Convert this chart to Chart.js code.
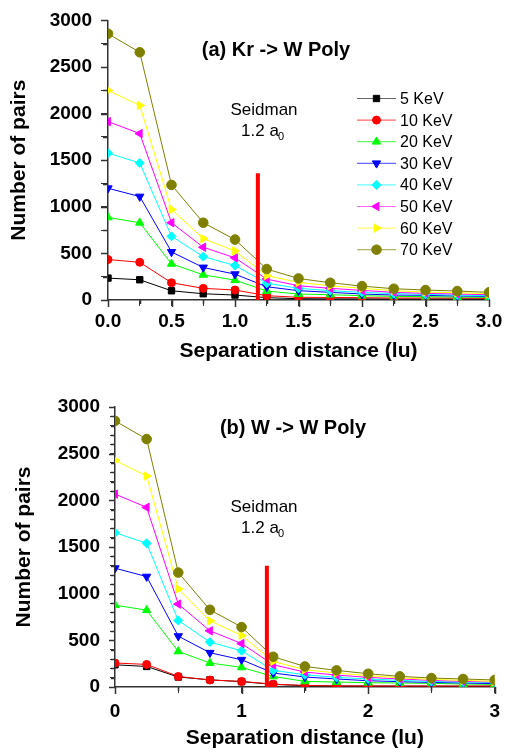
<!DOCTYPE html>
<html>
<head>
<meta charset="utf-8">
<script src="https://cdn.jsdelivr.net/npm/chart.js"></script>
<style>
  html, body { margin: 0; padding: 0; background: #fff; }
  #wrap { position: relative; width: 507px; height: 753px; }
  .box { position: absolute; left: 0; width: 507px; }
  .box canvas { position: absolute; left: 0; top: 0; }
  .box canvas.over { pointer-events: none; }
  #top { top: 0; height: 370px; }
  #bot { top: 370px; height: 383px; }
</style>
</head>
<body>
<div id="wrap">
  <div class="box" id="top">
    <canvas id="c1" width="507" height="370"></canvas>
    <canvas id="o1" class="over" width="507" height="370"></canvas>
  </div>
  <div class="box" id="bot">
    <canvas id="c2" width="507" height="383"></canvas>
    <canvas id="o2" class="over" width="507" height="383"></canvas>
  </div>
</div>
<script>
// separation distance (lu) and beam energies
const distances = [0, 0.25, 0.5, 0.75, 1.0, 1.25, 1.5, 1.75, 2.0, 2.25, 2.5, 2.75, 3.0];
const energies = ['5 KeV', '10 KeV', '20 KeV', '30 KeV', '40 KeV', '50 KeV', '60 KeV', '70 KeV'];

// (a) Kr -> W Poly, number of pairs
const kr5  = [235, 217, 99, 67, 53, 25, 14, 12, 12, 11, 11, 11, 11];
const kr10 = [434, 405, 185, 125, 107, 46, 29, 27, 25, 21, 21, 21, 18];
const kr20 = [886, 829, 388, 270, 213, 96, 64, 57, 46, 39, 36, 32, 28];
const kr30 = [1199, 1110, 516, 349, 277, 142, 100, 82, 64, 53, 50, 43, 39];
const kr40 = [1576, 1470, 683, 466, 370, 180, 125, 100, 82, 68, 60, 53, 46];
const kr50 = [1914, 1786, 829, 566, 452, 224, 153, 125, 103, 82, 71, 64, 57];
const kr60 = [2249, 2088, 971, 658, 526, 262, 189, 153, 125, 100, 85, 78, 68];
const kr70 = [2857, 2658, 1235, 829, 648, 332, 231, 185, 149, 121, 107, 96, 82];

// (b) W -> W Poly, number of pairs
const w5  = [238, 220, 107, 77, 57, 28, 14, 11, 10, 10, 9, 9, 9];
const w10 = [257, 242, 113, 75, 60, 30, 17, 11, 11, 10, 10, 10, 10];
const w20 = [877, 823, 381, 257, 210, 113, 60, 53, 46, 43, 39, 32, 28];
const w30 = [1273, 1183, 545, 367, 292, 150, 107, 86, 67, 57, 49, 43, 36];
const w40 = [1653, 1540, 712, 481, 388, 178, 131, 103, 86, 71, 60, 53, 46];
const w50 = [2067, 1925, 888, 602, 466, 238, 160, 128, 103, 86, 71, 60, 53];
const w60 = [2428, 2260, 1051, 709, 552, 274, 185, 150, 121, 99, 81, 71, 60];
const w70 = [2851, 2656, 1226, 827, 642, 324, 220, 178, 142, 114, 96, 86, 75];

// Seidman 1.2 a0 marker: x position and height of the red bar
const seidmanA = { x: 1.18, top: 1360 };
const seidmanB = { x: 1.2, top: 1300 };

const colors = ['#000000', '#ff0000', '#00ff00', '#0000ff', '#00ffff', '#ff00ff', '#ffff00', '#808000'];
const shapes = ['rect', 'circle', 'triangle', 'triangle', 'rectRot', 'triangle', 'triangle', 'circle'];
const turns  = [0, 0, 0, 180, 0, 270, 90, 0];
const sizes  = [4.5, 4, 4.8, 4.8, 4.5, 4.8, 4.8, 4.8];

const FONT = '"Liberation Sans", Arial, sans-serif';

function buildDatasets(series, seid) {
  const sets = series.map((vals, i) => ({
    label: energies[i],
    data: distances.map((d, j) => ({ x: d, y: vals[j] })),
    borderColor: colors[i],
    backgroundColor: colors[i],
    borderWidth: 1,
    pointStyle: shapes[i],
    rotation: turns[i],
    pointRadius: sizes[i],
    pointBorderWidth: 1,
    tension: 0,
    order: 8 - i,
  }));
  sets.push({
    label: 'seidman',
    data: [{ x: seid.x, y: 0 }, { x: seid.x, y: seid.top }],
    borderColor: '#ff0000',
    borderWidth: 4,
    pointRadius: 0,
    order: 0,
  });
  return sets;
}

// outward tick marks on a transparent canvas laid over the chart,
// long on labelled ticks, short on the others
function drawTickMarks(chart, overlayId, m) {
  const ctx = document.getElementById(overlayId).getContext('2d');
  const xs = chart.scales.x, ys = chart.scales.y;
  const area = chart.chartArea;
  ctx.clearRect(0, 0, ctx.canvas.width, ctx.canvas.height);
  ctx.strokeStyle = '#333';
  ctx.lineWidth = 1.5;
  ctx.beginPath();
  xs.ticks.forEach((t) => {
    const px = Math.round(xs.getPixelForValue(t.value)) + 0.5;
    const len = t.label ? m.xMajor : m.xMinor;
    ctx.moveTo(px, area.bottom);
    ctx.lineTo(px, area.bottom + len);
  });
  ys.ticks.forEach((t) => {
    const py = Math.round(ys.getPixelForValue(t.value)) + 0.5;
    const len = t.label ? m.yMajor : m.yMinor;
    ctx.moveTo(area.left, py);
    ctx.lineTo(area.left - len, py);
  });
  ctx.stroke();
}

// titles, Seidman note and the in-plot legend
function drawNotes(chart, o) {
  const ctx = chart.ctx;
  ctx.save();
  ctx.fillStyle = '#000';
  ctx.textAlign = 'center';
  ctx.textBaseline = 'middle';
  ctx.font = 'bold 20px ' + FONT;
  ctx.fillText(o.title, o.titleX, o.titleY);
  ctx.font = '17px ' + FONT;
  ctx.fillText('Seidman', o.seidX, o.seidY);
  ctx.fillText('1.2 a', o.seidX - 4, o.seidY + 21);
  ctx.font = '11px ' + FONT;
  ctx.fillText('0', o.seidX + 17, o.seidY + 27);
  if (o.legend) {
    ctx.textAlign = 'left';
    ctx.font = '16px ' + FONT;
    energies.forEach((name, i) => {
      const y = 98.5 + i * 21.6;
      ctx.globalAlpha = 0.6;
      ctx.strokeStyle = colors[i];
      ctx.lineWidth = 1.2;
      ctx.beginPath();
      ctx.moveTo(357, y);
      ctx.lineTo(396, y);
      ctx.stroke();
      ctx.globalAlpha = 1;
      ctx.fillStyle = colors[i];
      ctx.strokeStyle = colors[i];
      ctx.lineWidth = 1;
      Chart.helpers.drawPoint(ctx, { pointStyle: shapes[i], rotation: turns[i], radius: sizes[i], borderWidth: 1 }, 376.5, y);
      ctx.fillStyle = '#000';
      ctx.fillText(name, 400, y + 1);
    });
  }
  ctx.restore();
}

function makeChart(id, overlayId, series, seid, cfg) {
  return new Chart(document.getElementById(id), {
    type: 'line',
    data: { datasets: buildDatasets(series, seid) },
    plugins: [{
      id: 'extras',
      afterDraw(chart) {
        drawNotes(chart, cfg.notes);
        drawTickMarks(chart, overlayId, cfg.marks);
      },
    }],
    options: {
      responsive: false,
      animation: false,
      layout: { padding: cfg.padding },
      plugins: {
        legend: { display: false },
        tooltip: { enabled: false },
      },
      scales: {
        x: {
          type: 'linear', min: 0, max: 3,
          afterFit: (s) => { s.height = cfg.xHeight; },
          grid: { drawOnChartArea: false, drawTicks: true, tickLength: 6, color: '#333' },
          border: { display: true, color: '#333', width: 1.5 },
          ticks: {
            stepSize: cfg.xStep, autoSkip: false, maxRotation: 0, padding: cfg.xPad,
            color: '#000', font: { family: FONT, size: 19, weight: 'bold' },
            callback: cfg.xLabel,
          },
          title: {
            display: true, text: 'Separation distance (lu)', color: '#000',
            font: { family: FONT, size: 21, weight: 'bold' },
            padding: { top: 0, bottom: cfg.xTitlePad },
          },
        },
        y: {
          min: 0, max: 3000,
          afterFit: (s) => { s.width = cfg.yWidth; },
          grid: { drawOnChartArea: false, drawTicks: true, tickLength: cfg.yTick, color: '#333' },
          border: { display: true, color: '#333', width: 1.5 },
          ticks: {
            stepSize: cfg.yStep, autoSkip: false, padding: cfg.yPad,
            color: '#000', font: { family: FONT, size: 19, weight: 'bold' },
            callback: (v) => (v % 500 === 0 ? String(v) : ''),
          },
          title: {
            display: true, text: 'Number of pairs', color: '#000',
            font: { family: FONT, size: 21, weight: 'bold' },
            padding: { top: cfg.yTitlePad, bottom: 0 },
          },
        },
      },
    },
  });
}

makeChart('c1', 'o1', [kr5, kr10, kr20, kr30, kr40, kr50, kr60, kr70], seidmanA, {
  padding: { top: 19, right: 18, bottom: 0, left: 0 },
  xHeight: 70, yWidth: 108, xStep: 0.25, yStep: 250, yTick: 7, yPad: 9, xPad: 4,
  xTitlePad: 6, yTitlePad: 7,
  marks: { xMajor: 7, xMinor: 4, yMajor: 7, yMinor: 5 },
  xLabel: (v) => (Math.abs(v * 2 - Math.round(v * 2)) < 1e-9 ? v.toFixed(1) : ''),
  notes: { title: '(a) Kr -> W Poly', titleX: 276, titleY: 50, seidX: 264, seidY: 110, legend: true },
});

makeChart('c2', 'o2', [w5, w10, w20, w30, w40, w50, w60, w70], seidmanB, {
  padding: { top: 37, right: 11, bottom: 0, left: 0 },
  xHeight: 66, yWidth: 115, xStep: 0.5, yStep: 100, yTick: 5, yPad: 10, xPad: 7,
  xTitlePad: 2, yTitlePad: 12,
  marks: { xMajor: 7, xMinor: 4, yMajor: 6, yMinor: 4 },
  xLabel: (v) => (Number.isInteger(v) ? String(v) : ''),
  notes: { title: '(b) W -> W Poly', titleX: 293, titleY: 58, seidX: 264, seidY: 137, legend: false },
});
</script>
</body>
</html>
